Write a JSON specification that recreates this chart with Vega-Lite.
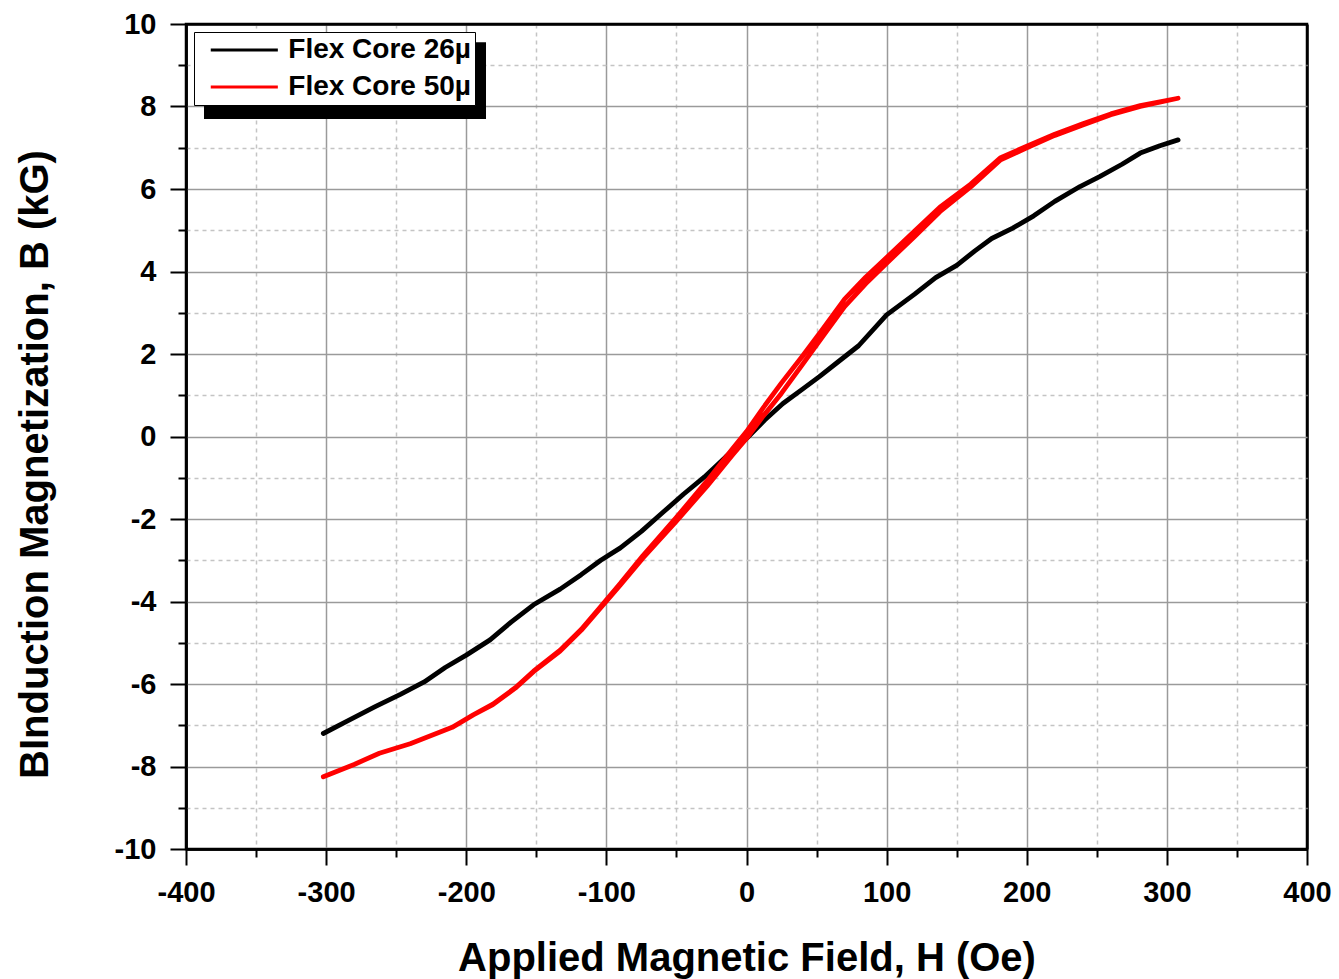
{
 "$schema": "https://vega.github.io/schema/vega-lite/v6.json",
 "width": 1121,
 "height": 825,
 "autosize": {"type": "none"},
 "padding": {"left": 186, "top": 24, "right": 32, "bottom": 130},
 "background": "white",
 "config": {"view": {"stroke": "black", "strokeWidth": 2.5}, "font": "Liberation Sans"},
 "data": {"values": [
  {"s":"Flex Core 26µ","i":0,"H":-302,"B":-7.2},
  {"s":"Flex Core 26µ","i":1,"H":-285,"B":-6.9},
  {"s":"Flex Core 26µ","i":2,"H":-265,"B":-6.55},
  {"s":"Flex Core 26µ","i":3,"H":-247,"B":-6.25},
  {"s":"Flex Core 26µ","i":4,"H":-230,"B":-5.95},
  {"s":"Flex Core 26µ","i":5,"H":-215,"B":-5.6},
  {"s":"Flex Core 26µ","i":6,"H":-200,"B":-5.3},
  {"s":"Flex Core 26µ","i":7,"H":-183,"B":-4.93},
  {"s":"Flex Core 26µ","i":8,"H":-168,"B":-4.5},
  {"s":"Flex Core 26µ","i":9,"H":-152,"B":-4.08},
  {"s":"Flex Core 26µ","i":10,"H":-133,"B":-3.7},
  {"s":"Flex Core 26µ","i":11,"H":-118,"B":-3.35},
  {"s":"Flex Core 26µ","i":12,"H":-104,"B":-3.0},
  {"s":"Flex Core 26µ","i":13,"H":-90,"B":-2.7},
  {"s":"Flex Core 26µ","i":14,"H":-75,"B":-2.3},
  {"s":"Flex Core 26µ","i":15,"H":-60,"B":-1.85},
  {"s":"Flex Core 26µ","i":16,"H":-45,"B":-1.4},
  {"s":"Flex Core 26µ","i":17,"H":-30,"B":-0.98},
  {"s":"Flex Core 26µ","i":18,"H":-15,"B":-0.5},
  {"s":"Flex Core 26µ","i":19,"H":0,"B":-0.05},
  {"s":"Flex Core 26µ","i":20,"H":13,"B":0.4},
  {"s":"Flex Core 26µ","i":21,"H":26,"B":0.8},
  {"s":"Flex Core 26µ","i":22,"H":40,"B":1.15},
  {"s":"Flex Core 26µ","i":23,"H":52,"B":1.45},
  {"s":"Flex Core 26µ","i":24,"H":65,"B":1.8},
  {"s":"Flex Core 26µ","i":25,"H":80,"B":2.2},
  {"s":"Flex Core 26µ","i":26,"H":100,"B":2.95},
  {"s":"Flex Core 26µ","i":27,"H":120,"B":3.45},
  {"s":"Flex Core 26µ","i":28,"H":135,"B":3.85},
  {"s":"Flex Core 26µ","i":29,"H":150,"B":4.15},
  {"s":"Flex Core 26µ","i":30,"H":163,"B":4.5},
  {"s":"Flex Core 26µ","i":31,"H":175,"B":4.8},
  {"s":"Flex Core 26µ","i":32,"H":190,"B":5.05},
  {"s":"Flex Core 26µ","i":33,"H":205,"B":5.35},
  {"s":"Flex Core 26µ","i":34,"H":220,"B":5.7},
  {"s":"Flex Core 26µ","i":35,"H":238,"B":6.06},
  {"s":"Flex Core 26µ","i":36,"H":252,"B":6.3},
  {"s":"Flex Core 26µ","i":37,"H":268,"B":6.6},
  {"s":"Flex Core 26µ","i":38,"H":281,"B":6.87},
  {"s":"Flex Core 26µ","i":39,"H":295,"B":7.05},
  {"s":"Flex Core 26µ","i":40,"H":308,"B":7.19},
  {"s":"Flex Core 50µ","i":0,"H":-302,"B":-8.25},
  {"s":"Flex Core 50µ","i":1,"H":-280,"B":-7.95},
  {"s":"Flex Core 50µ","i":2,"H":-262,"B":-7.68},
  {"s":"Flex Core 50µ","i":3,"H":-240,"B":-7.45},
  {"s":"Flex Core 50µ","i":4,"H":-210,"B":-7.05},
  {"s":"Flex Core 50µ","i":5,"H":-195,"B":-6.75},
  {"s":"Flex Core 50µ","i":6,"H":-181,"B":-6.5},
  {"s":"Flex Core 50µ","i":7,"H":-165,"B":-6.1},
  {"s":"Flex Core 50µ","i":8,"H":-152,"B":-5.7},
  {"s":"Flex Core 50µ","i":9,"H":-133,"B":-5.2},
  {"s":"Flex Core 50µ","i":10,"H":-118,"B":-4.7},
  {"s":"Flex Core 50µ","i":11,"H":-104,"B":-4.15},
  {"s":"Flex Core 50µ","i":12,"H":-90,"B":-3.6},
  {"s":"Flex Core 50µ","i":13,"H":-74,"B":-2.95},
  {"s":"Flex Core 50µ","i":14,"H":-50,"B":-2.05},
  {"s":"Flex Core 50µ","i":15,"H":-28,"B":-1.2},
  {"s":"Flex Core 50µ","i":16,"H":-10,"B":-0.45},
  {"s":"Flex Core 50µ","i":17,"H":0,"B":-0.05},
  {"s":"Flex Core 50µ","i":18,"H":12,"B":0.5},
  {"s":"Flex Core 50µ","i":19,"H":25,"B":1.05},
  {"s":"Flex Core 50µ","i":20,"H":40,"B":1.75},
  {"s":"Flex Core 50µ","i":21,"H":55,"B":2.45},
  {"s":"Flex Core 50µ","i":22,"H":70,"B":3.15},
  {"s":"Flex Core 50µ","i":23,"H":85,"B":3.7},
  {"s":"Flex Core 50µ","i":24,"H":100,"B":4.2},
  {"s":"Flex Core 50µ","i":25,"H":120,"B":4.85},
  {"s":"Flex Core 50µ","i":26,"H":138,"B":5.45},
  {"s":"Flex Core 50µ","i":27,"H":160,"B":6.05},
  {"s":"Flex Core 50µ","i":28,"H":181,"B":6.7},
  {"s":"Flex Core 50µ","i":29,"H":200,"B":7.0},
  {"s":"Flex Core 50µ","i":30,"H":220,"B":7.3},
  {"s":"Flex Core 50µ","i":31,"H":240,"B":7.55},
  {"s":"Flex Core 50µ","i":32,"H":260,"B":7.8},
  {"s":"Flex Core 50µ","i":33,"H":281,"B":8.0},
  {"s":"Flex Core 50µ","i":34,"H":308,"B":8.2},
  {"s":"Flex Core 50µ","i":35,"H":281,"B":8.02},
  {"s":"Flex Core 50µ","i":36,"H":260,"B":7.82},
  {"s":"Flex Core 50µ","i":37,"H":240,"B":7.58},
  {"s":"Flex Core 50µ","i":38,"H":220,"B":7.33},
  {"s":"Flex Core 50µ","i":39,"H":200,"B":7.04},
  {"s":"Flex Core 50µ","i":40,"H":181,"B":6.75},
  {"s":"Flex Core 50µ","i":41,"H":160,"B":6.12},
  {"s":"Flex Core 50µ","i":42,"H":138,"B":5.56},
  {"s":"Flex Core 50µ","i":43,"H":120,"B":4.98},
  {"s":"Flex Core 50µ","i":44,"H":100,"B":4.34},
  {"s":"Flex Core 50µ","i":45,"H":85,"B":3.86},
  {"s":"Flex Core 50µ","i":46,"H":70,"B":3.33},
  {"s":"Flex Core 50µ","i":47,"H":55,"B":2.63},
  {"s":"Flex Core 50µ","i":48,"H":40,"B":1.95},
  {"s":"Flex Core 50µ","i":49,"H":25,"B":1.3},
  {"s":"Flex Core 50µ","i":50,"H":12,"B":0.7},
  {"s":"Flex Core 50µ","i":51,"H":0,"B":0.12},
  {"s":"Flex Core 50µ","i":52,"H":-10,"B":-0.3},
  {"s":"Flex Core 50µ","i":53,"H":-28,"B":-1.07},
  {"s":"Flex Core 50µ","i":54,"H":-50,"B":-1.96},
  {"s":"Flex Core 50µ","i":55,"H":-74,"B":-2.89},
  {"s":"Flex Core 50µ","i":56,"H":-90,"B":-3.56},
  {"s":"Flex Core 50µ","i":57,"H":-104,"B":-4.12},
  {"s":"Flex Core 50µ","i":58,"H":-118,"B":-4.68},
  {"s":"Flex Core 50µ","i":59,"H":-133,"B":-5.18},
  {"s":"Flex Core 50µ","i":60,"H":-152,"B":-5.69},
  {"s":"Flex Core 50µ","i":61,"H":-165,"B":-6.09},
  {"s":"Flex Core 50µ","i":62,"H":-181,"B":-6.49},
  {"s":"Flex Core 50µ","i":63,"H":-195,"B":-6.75},
  {"s":"Flex Core 50µ","i":64,"H":-210,"B":-7.05},
  {"s":"Flex Core 50µ","i":65,"H":-240,"B":-7.45},
  {"s":"Flex Core 50µ","i":66,"H":-262,"B":-7.68},
  {"s":"Flex Core 50µ","i":67,"H":-280,"B":-7.95},
  {"s":"Flex Core 50µ","i":68,"H":-302,"B":-8.25}
 ]},
 "layer": [
  {
   "data": {"values": [{}]},
   "mark": {"type": "rect", "color": "black"},
   "encoding": {
    "x": {"datum": -387.15, "type": "quantitative",
          "scale": {"domain": [-400, 400], "nice": false, "zero": false},
          "axis": {"orient": "bottom", "values": [-350,-250,-150,-50,50,150,250,350], "labels": false, "domain": false, "title": null,
                   "tickSize": 8, "tickWidth": 2, "tickColor": "black",
                   "grid": true, "gridColor": "#c4c4c4", "gridDash": [4,4], "gridWidth": 1.5}},
    "x2": {"datum": -185.9},
    "y": {"datum": 9.56, "type": "quantitative",
          "scale": {"domain": [-10, 10], "nice": false, "zero": false},
          "axis": {"orient": "left", "values": [-9,-7,-5,-3,-1,1,3,5,7,9], "labels": false, "domain": false, "title": null,
                   "tickSize": 8, "tickWidth": 2, "tickColor": "black",
                   "grid": true, "gridColor": "#c4c4c4", "gridDash": [4,4], "gridWidth": 1.5}},
    "y2": {"datum": 7.697}
   }
  },
  {
   "mark": {"type": "line", "strokeWidth": 4.8, "strokeJoin": "round", "strokeCap": "round"},
   "encoding": {
    "x": {"field": "H", "type": "quantitative",
          "scale": {"domain": [-400, 400], "nice": false, "zero": false},
          "axis": {"orient": "bottom", "values": [-400,-300,-200,-100,0,100,200,300,400],
                   "labelExpr": "'' + datum.value",
                   "title": "Applied Magnetic Field, H (Oe)",
                   "titleFont": "Liberation Sans", "titleFontWeight": "bold", "titleFontSize": 40, "titleColor": "black",
                   "titleY": 109, "titleBaseline": "middle",
                   "labelFont": "Liberation Sans", "labelFontWeight": "bold", "labelFontSize": 29, "labelColor": "black",
                   "labelPadding": 13, "labelFlush": false, "labelOverlap": false,
                   "domainColor": "black", "domainWidth": 2.5,
                   "tickSize": 16, "tickWidth": 2, "tickColor": "black",
                   "grid": true,
                   "gridColor": {"condition": {"test": "abs(datum.value) >= 400", "value": "black"}, "value": "#9a9a9a"},
                   "gridWidth": {"condition": {"test": "abs(datum.value) >= 400", "value": 2.5}, "value": 1.5}}},
    "y": {"field": "B", "type": "quantitative",
          "scale": {"domain": [-10, 10], "nice": false, "zero": false},
          "axis": {"orient": "left", "values": [-10,-8,-6,-4,-2,0,2,4,6,8,10],
                   "labelExpr": "'' + datum.value",
                   "title": "BInduction Magnetization, B (kG)",
                   "titleFont": "Liberation Sans", "titleFontWeight": "bold", "titleFontSize": 40, "titleColor": "black",
                   "titleX": -151, "titleY": 440, "titleBaseline": "middle", "titleAlign": "center", "titleAngle": -90,
                   "labelFont": "Liberation Sans", "labelFontWeight": "bold", "labelFontSize": 29, "labelColor": "black",
                   "labelPadding": 14, "labelFlush": false, "labelOverlap": false,
                   "domainColor": "black", "domainWidth": 2.5,
                   "tickSize": 16, "tickWidth": 2, "tickColor": "black",
                   "grid": true,
                   "gridColor": {"condition": {"test": "abs(datum.value) >= 10", "value": "black"}, "value": "#9a9a9a"},
                   "gridWidth": {"condition": {"test": "abs(datum.value) >= 10", "value": 2.5}, "value": 1.5}}},
    "color": {"field": "s", "type": "nominal",
              "scale": {"domain": ["Flex Core 26µ", "Flex Core 50µ"], "range": ["black", "#ff0000"]},
              "legend": {"orient": "none", "legendX": 8, "legendY": 8, "title": null,
                         "fillColor": "white", "strokeColor": "black", "padding": 4,
                         "symbolType": "M-3,0H3", "symbolSize": 500, "symbolStrokeWidth": 3, "symbolOffset": 32.3,
                         "labelFont": "Liberation Sans", "labelFontWeight": "bold", "labelFontSize": 28, "labelColor": "black",
                         "labelOffset": 30, "labelLimit": 0, "rowPadding": 9}},
    "order": {"field": "i", "type": "quantitative"}
   }
  }
 ],
 "resolve": {"axis": {"x": "independent", "y": "independent"}}
}
